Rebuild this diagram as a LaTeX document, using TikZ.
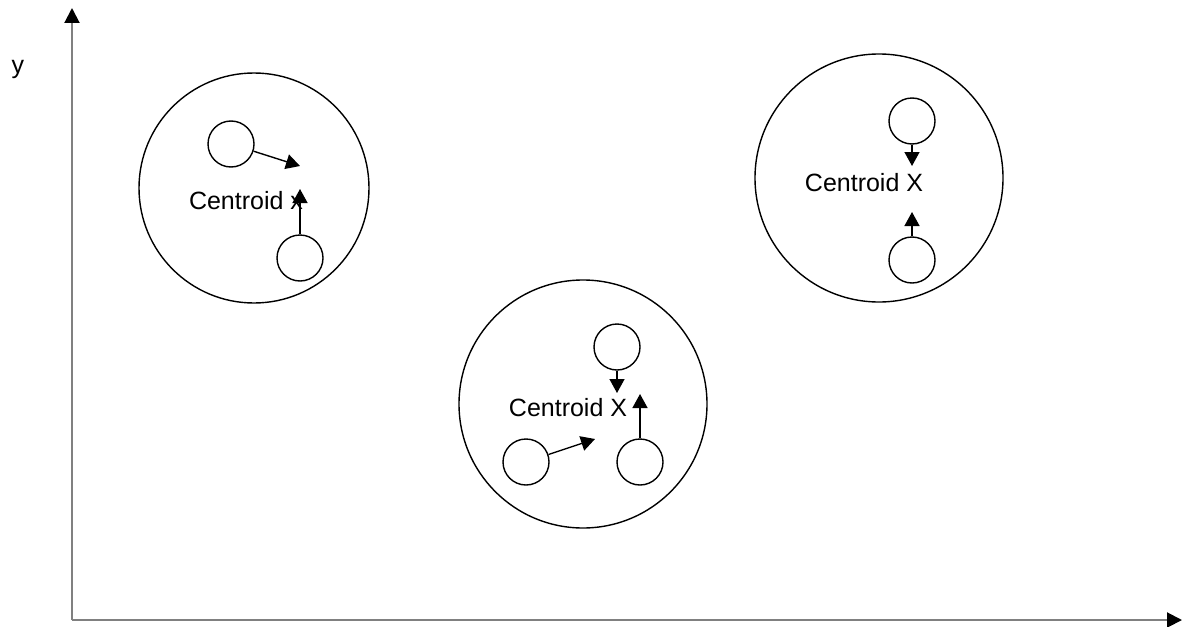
\documentclass[tikz,border=0pt]{standalone}
\usepackage{fontspec}
\setmainfont{Liberation Sans}
\usetikzlibrary{arrows.meta, positioning}

\tikzset{
    cluster/.style={draw, circle, line width=1.4pt, minimum size=248pt, inner sep=0pt},
    point/.style={draw, circle, line width=1.4pt, minimum size=46pt, inner sep=0pt},
    label/.style={font=\fontsize{25}{29}\selectfont, inner sep=0pt},
    move/.style={line width=1.4pt, -{Triangle[length=14pt, width=15pt]}},
    axis/.style={line width=2pt, draw={rgb,255:red,128;green,128;blue,128}, -{Triangle[length=15pt, width=15pt, fill=black, color=black]}}
}

\begin{document}
\begin{tikzpicture}[x=1pt, y=-1pt]
    \useasboundingbox (0, 0) rectangle (1182, 626);
    % axes
    \coordinate (origin) at (72, 620);
    \coordinate (ytip) at (72, 8);
    \coordinate (xtip) at (1182, 620);
    \draw[axis] (origin) -- (ytip);
    \draw[axis] (origin) -- (xtip);
    \node[label] (ylabel) at (18, 69) {y};
    % left cluster
    \node[cluster, minimum size=230pt] (left) at (254, 188) {};
    \node[label] (lefttext) at (246, 201) {Centroid x};
    \node[point] (lefta) at (231, 144) {};
    \node[point] (leftb) at (300, 258) {};
    \coordinate (leftc1) at (300, 166);
    \coordinate (leftc2) at (300, 189);
    \draw[move] (lefta) -- (leftc1);
    \draw[move] (leftb) -- (leftc2);
    % middle cluster
    \node[cluster] (mid) at (583, 404) {};
    \node[label] (midtext) at (568, 408) {Centroid X};
    \node[point] (mida) at (617, 347) {};
    \node[point] (midb) at (526, 462) {};
    \node[point] (midc) at (640, 462) {};
    \coordinate (midc1) at (617, 393);
    \coordinate (midc2) at (595, 439);
    \coordinate (midc3) at (640, 394);
    \draw[move] (mida) -- (midc1);
    \draw[move] (midb) -- (midc2);
    \draw[move] (midc) -- (midc3);
    % right cluster
    \node[cluster] (right) at (879, 178) {};
    \node[label] (righttext) at (864, 183) {Centroid X};
    \node[point] (righta) at (912, 121) {};
    \node[point] (rightb) at (912, 260) {};
    \coordinate (rightc1) at (912, 166);
    \coordinate (rightc2) at (912, 212);
    \draw[move] (righta) -- (rightc1);
    \draw[move] (rightb) -- (rightc2);
\end{tikzpicture}
\end{document}
